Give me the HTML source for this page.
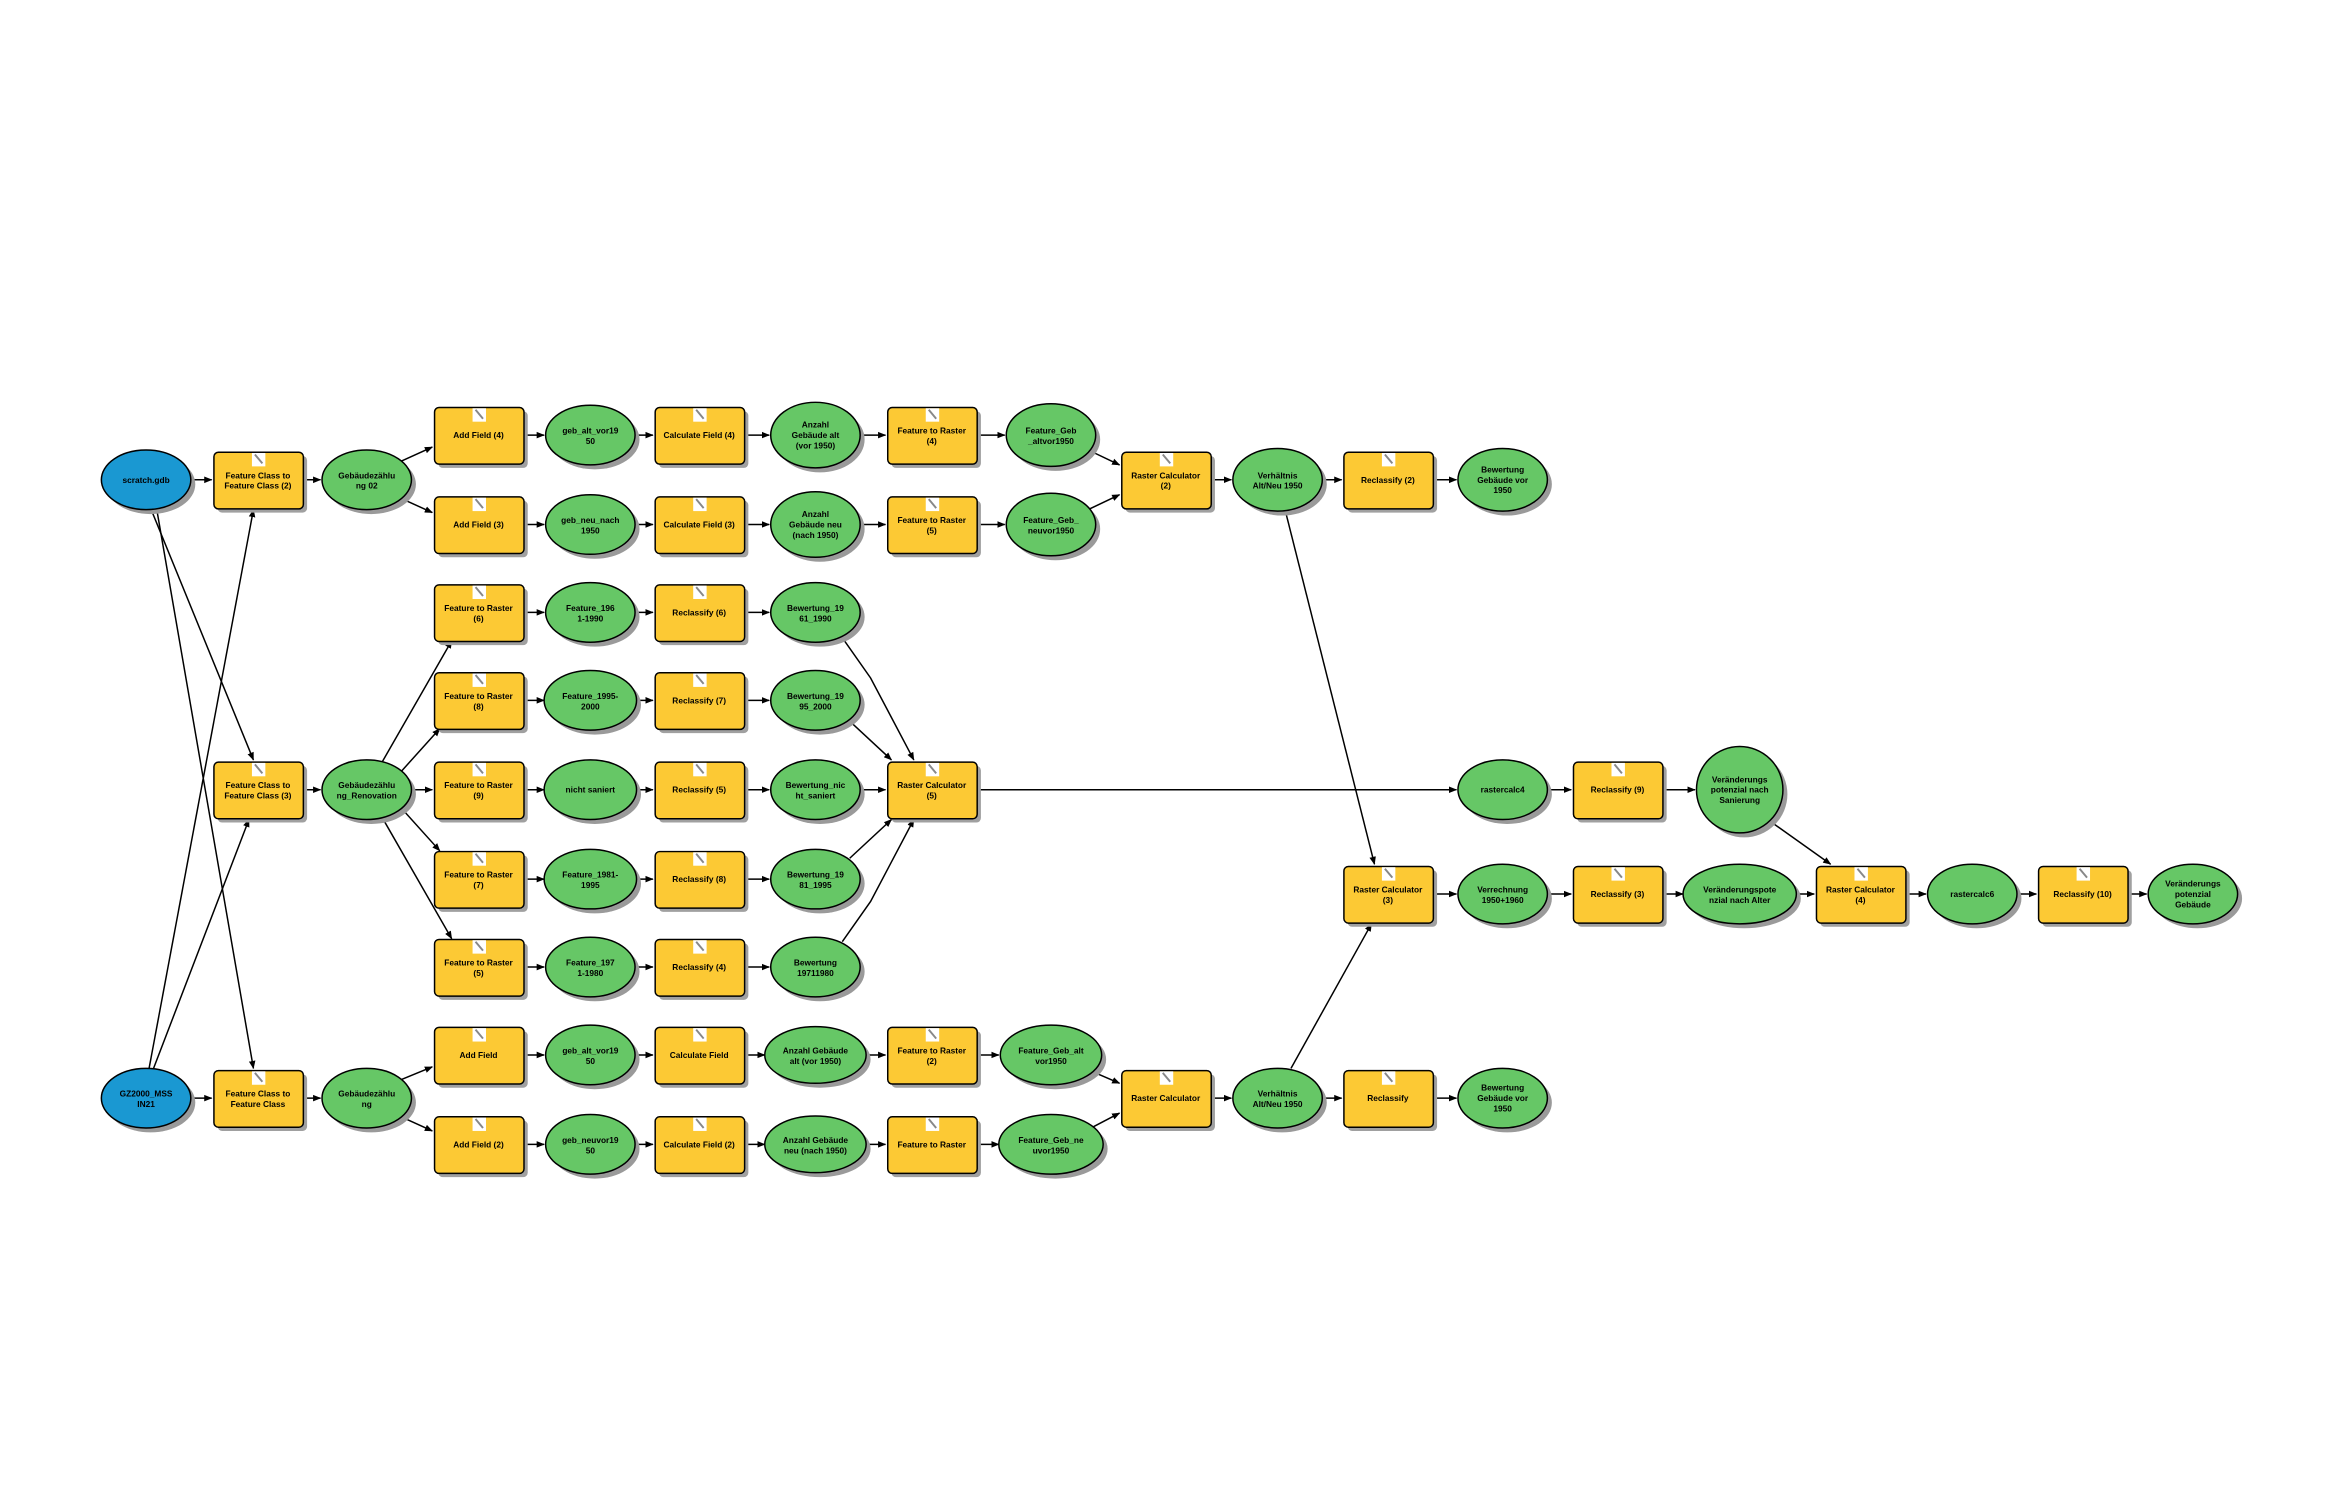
<!DOCTYPE html>
<html><head><meta charset="utf-8"><style>
html,body{margin:0;padding:0;background:#fff}
svg{display:block}
text{font-family:"Liberation Sans",sans-serif;font-weight:bold;font-size:5.6px;text-anchor:middle;fill:#000}
.l{stroke:#000;stroke-width:1;fill:none;marker-end:url(#a)}
.e{fill:#66c766;stroke:#000;stroke-width:1}
.b{fill:#1a98d2;stroke:#000;stroke-width:1}
.s{fill:#9a9a9a}
</style></head><body>
<svg width="2336" height="1496" viewBox="0 0 1567 1004" preserveAspectRatio="none" xmlns="http://www.w3.org/2000/svg">
<defs>
<marker id="a" markerWidth="6" markerHeight="6" refX="5" refY="3" orient="auto" markerUnits="userSpaceOnUse"><path d="M0,0.8 L5.5,3 L0,5.2 Z" fill="#000"/></marker>
<symbol id="bx" width="66" height="44" overflow="visible">
<rect x="3" y="3" width="60" height="38" rx="3" fill="#a0a0a0"/>
<rect x="0.5" y="0.5" width="60" height="38" rx="3" fill="#fcc934" stroke="#000" stroke-width="1"/>
<rect x="26" y="1" width="9" height="9" fill="#fff"/>
<path d="M28,2 L33,8" stroke="#888" stroke-width="1.3"/>
</symbol>
</defs>

<g>
<line class="l" x1="128" y1="322" x2="142" y2="322"/>
<line class="l" x1="203" y1="322" x2="215" y2="322"/>
<line class="l" x1="268" y1="310" x2="290" y2="300"/>
<line class="l" x1="268" y1="334" x2="290" y2="344"/>
<line class="l" x1="101" y1="341" x2="170" y2="510"/>
<line class="l" x1="105" y1="341" x2="170" y2="717"/>
<line class="l" x1="100" y1="717" x2="170" y2="342"/>
<line class="l" x1="103" y1="717" x2="167" y2="550"/>
<line class="l" x1="203" y1="530" x2="215" y2="530"/>
<line class="l" x1="128" y1="737" x2="142" y2="737"/>
<line class="l" x1="203" y1="737" x2="215" y2="737"/>
<line class="l" x1="268" y1="725" x2="290" y2="716"/>
<line class="l" x1="268" y1="749" x2="290" y2="759"/>
<g>
<line class="l" x1="351" y1="292" x2="365" y2="292"/><line class="l" x1="426" y1="292" x2="438" y2="292"/><line class="l" x1="499" y1="292" x2="516" y2="292"/><line class="l" x1="577" y1="292" x2="594" y2="292"/><line class="l" x1="655" y1="292" x2="674" y2="292"/>
<line class="l" x1="351" y1="352" x2="365" y2="352"/><line class="l" x1="426" y1="352" x2="438" y2="352"/><line class="l" x1="499" y1="352" x2="516" y2="352"/><line class="l" x1="577" y1="352" x2="594" y2="352"/><line class="l" x1="655" y1="352" x2="674" y2="352"/>
<line class="l" x1="730" y1="302" x2="751" y2="312"/><line class="l" x1="730" y1="342" x2="751" y2="332"/>
<line class="l" x1="812" y1="322" x2="826" y2="322"/><line class="l" x1="887" y1="322" x2="900" y2="322"/><line class="l" x1="961" y1="322" x2="977" y2="322"/>
</g>
<g>
<line class="l" x1="351" y1="708" x2="365" y2="708"/><line class="l" x1="426" y1="708" x2="438" y2="708"/><line class="l" x1="499" y1="708" x2="513" y2="708"/><line class="l" x1="581" y1="708" x2="594" y2="708"/><line class="l" x1="655" y1="708" x2="670" y2="708"/>
<line class="l" x1="351" y1="768" x2="365" y2="768"/><line class="l" x1="426" y1="768" x2="438" y2="768"/><line class="l" x1="499" y1="768" x2="513" y2="768"/><line class="l" x1="581" y1="768" x2="594" y2="768"/><line class="l" x1="655" y1="768" x2="670" y2="768"/>
<line class="l" x1="730" y1="718" x2="751" y2="727"/><line class="l" x1="730" y1="758" x2="751" y2="747"/>
<line class="l" x1="812" y1="737" x2="826" y2="737"/><line class="l" x1="887" y1="737" x2="900" y2="737"/><line class="l" x1="961" y1="737" x2="977" y2="737"/>
</g>
<g>
<line class="l" x1="256" y1="512" x2="303" y2="430"/>
<line class="l" x1="268" y1="519" x2="295" y2="489"/>
<line class="l" x1="276" y1="530" x2="290" y2="530"/>
<line class="l" x1="268" y1="541" x2="295" y2="571"/>
<line class="l" x1="256" y1="548" x2="303" y2="630"/>
<line class="l" x1="351" y1="411" x2="365" y2="411"/><line class="l" x1="426" y1="411" x2="438" y2="411"/><line class="l" x1="499" y1="411" x2="516" y2="411"/>
<line class="l" x1="351" y1="470" x2="365" y2="470"/><line class="l" x1="426" y1="470" x2="438" y2="470"/><line class="l" x1="499" y1="470" x2="516" y2="470"/>
<line class="l" x1="351" y1="530" x2="365" y2="530"/><line class="l" x1="426" y1="530" x2="438" y2="530"/><line class="l" x1="499" y1="530" x2="516" y2="530"/>
<line class="l" x1="351" y1="590" x2="365" y2="590"/><line class="l" x1="426" y1="590" x2="438" y2="590"/><line class="l" x1="499" y1="590" x2="516" y2="590"/>
<line class="l" x1="351" y1="649" x2="365" y2="649"/><line class="l" x1="426" y1="649" x2="438" y2="649"/><line class="l" x1="499" y1="649" x2="516" y2="649"/>
<path class="l" d="M565,428 L584,455 L613,510"/>
<line class="l" x1="570" y1="484" x2="598" y2="510"/>
<line class="l" x1="577" y1="530" x2="594" y2="530"/>
<line class="l" x1="570" y1="576" x2="598" y2="550"/>
<path class="l" d="M565,632 L584,605 L613,550"/>
<line class="l" x1="655" y1="530" x2="977" y2="530"/>
<line class="l" x1="1038" y1="530" x2="1054" y2="530"/>
<line class="l" x1="1115" y1="530" x2="1137" y2="530"/>
<line class="l" x1="1190" y1="553" x2="1228" y2="580"/>
<line class="l" x1="862" y1="342" x2="922" y2="580"/>
<line class="l" x1="866" y1="717" x2="920" y2="620"/>
<line class="l" x1="961" y1="600" x2="977" y2="600"/>
<line class="l" x1="1038" y1="600" x2="1054" y2="600"/>
<line class="l" x1="1115" y1="600" x2="1129" y2="600"/>
<line class="l" x1="1205" y1="600" x2="1217" y2="600"/>
<line class="l" x1="1278" y1="600" x2="1292" y2="600"/>
<line class="l" x1="1353" y1="600" x2="1366" y2="600"/>
<line class="l" x1="1427" y1="600" x2="1440" y2="600"/>
</g>
</g>

<g>
<ellipse class="s" cx="101" cy="325" rx="30" ry="20"/><ellipse class="b" cx="98" cy="322" rx="30" ry="20"/>
<ellipse class="s" cx="101" cy="740" rx="30" ry="20"/><ellipse class="b" cx="98" cy="737" rx="30" ry="20"/>
<ellipse class="s" cx="249" cy="325" rx="30" ry="20"/><ellipse class="e" cx="246" cy="322" rx="30" ry="20"/>
<ellipse class="s" cx="249" cy="533" rx="30" ry="20"/><ellipse class="e" cx="246" cy="530" rx="30" ry="20"/>
<ellipse class="s" cx="249" cy="740" rx="30" ry="20"/><ellipse class="e" cx="246" cy="737" rx="30" ry="20"/>

<ellipse class="s" cx="399" cy="295" rx="30" ry="20"/><ellipse class="e" cx="396" cy="292" rx="30" ry="20"/>
<ellipse class="s" cx="399" cy="355" rx="30" ry="20"/><ellipse class="e" cx="396" cy="352" rx="30" ry="20"/>
<ellipse class="s" cx="550" cy="295" rx="30" ry="22"/><ellipse class="e" cx="547" cy="292" rx="30" ry="22"/>
<ellipse class="s" cx="550" cy="355" rx="30" ry="22"/><ellipse class="e" cx="547" cy="352" rx="30" ry="22"/>
<ellipse class="s" cx="708" cy="295" rx="30" ry="21"/><ellipse class="e" cx="705" cy="292" rx="30" ry="21"/>
<ellipse class="s" cx="708" cy="355" rx="30" ry="21"/><ellipse class="e" cx="705" cy="352" rx="30" ry="21"/>
<ellipse class="s" cx="860" cy="325" rx="30" ry="21"/><ellipse class="e" cx="857" cy="322" rx="30" ry="21"/>
<ellipse class="s" cx="1011" cy="325" rx="30" ry="21"/><ellipse class="e" cx="1008" cy="322" rx="30" ry="21"/>

<ellipse class="s" cx="399" cy="711" rx="30" ry="20"/><ellipse class="e" cx="396" cy="708" rx="30" ry="20"/>
<ellipse class="s" cx="399" cy="771" rx="30" ry="20"/><ellipse class="e" cx="396" cy="768" rx="30" ry="20"/>
<ellipse class="s" cx="550" cy="711" rx="34" ry="19"/><ellipse class="e" cx="547" cy="708" rx="34" ry="19"/>
<ellipse class="s" cx="550" cy="771" rx="34" ry="19"/><ellipse class="e" cx="547" cy="768" rx="34" ry="19"/>
<ellipse class="s" cx="708" cy="711" rx="34" ry="20"/><ellipse class="e" cx="705" cy="708" rx="34" ry="20"/>
<ellipse class="s" cx="708" cy="771" rx="35" ry="20"/><ellipse class="e" cx="705" cy="768" rx="35" ry="20"/>
<ellipse class="s" cx="860" cy="740" rx="30" ry="20"/><ellipse class="e" cx="857" cy="737" rx="30" ry="20"/>
<ellipse class="s" cx="1011" cy="740" rx="30" ry="20"/><ellipse class="e" cx="1008" cy="737" rx="30" ry="20"/>

<ellipse class="s" cx="399" cy="414" rx="30" ry="20"/><ellipse class="e" cx="396" cy="411" rx="30" ry="20"/>
<ellipse class="s" cx="399" cy="473" rx="31" ry="20"/><ellipse class="e" cx="396" cy="470" rx="31" ry="20"/>
<ellipse class="s" cx="399" cy="533" rx="31" ry="20"/><ellipse class="e" cx="396" cy="530" rx="31" ry="20"/>
<ellipse class="s" cx="399" cy="593" rx="31" ry="20"/><ellipse class="e" cx="396" cy="590" rx="31" ry="20"/>
<ellipse class="s" cx="399" cy="652" rx="30" ry="20"/><ellipse class="e" cx="396" cy="649" rx="30" ry="20"/>
<ellipse class="s" cx="550" cy="414" rx="30" ry="20"/><ellipse class="e" cx="547" cy="411" rx="30" ry="20"/>
<ellipse class="s" cx="550" cy="473" rx="30" ry="20"/><ellipse class="e" cx="547" cy="470" rx="30" ry="20"/>
<ellipse class="s" cx="550" cy="533" rx="30" ry="20"/><ellipse class="e" cx="547" cy="530" rx="30" ry="20"/>
<ellipse class="s" cx="550" cy="593" rx="30" ry="20"/><ellipse class="e" cx="547" cy="590" rx="30" ry="20"/>
<ellipse class="s" cx="550" cy="652" rx="30" ry="20"/><ellipse class="e" cx="547" cy="649" rx="30" ry="20"/>

<ellipse class="s" cx="1011" cy="533" rx="30" ry="20"/><ellipse class="e" cx="1008" cy="530" rx="30" ry="20"/>
<ellipse class="s" cx="1170" cy="533" rx="29" ry="29"/><ellipse class="e" cx="1167" cy="530" rx="29" ry="29"/>
<ellipse class="s" cx="1011" cy="603" rx="30" ry="20"/><ellipse class="e" cx="1008" cy="600" rx="30" ry="20"/>
<ellipse class="s" cx="1170" cy="603" rx="38" ry="20"/><ellipse class="e" cx="1167" cy="600" rx="38" ry="20"/>
<ellipse class="s" cx="1326" cy="603" rx="30" ry="20"/><ellipse class="e" cx="1323" cy="600" rx="30" ry="20"/>
<ellipse class="s" cx="1474" cy="603" rx="30" ry="20"/><ellipse class="e" cx="1471" cy="600" rx="30" ry="20"/>
</g>

<g>
<use href="#bx" x="143" y="303"/><use href="#bx" x="143" y="511"/><use href="#bx" x="143" y="718"/>
<use href="#bx" x="291" y="273"/><use href="#bx" x="439" y="273"/><use href="#bx" x="595" y="273"/>
<use href="#bx" x="291" y="333"/><use href="#bx" x="439" y="333"/><use href="#bx" x="595" y="333"/>
<use href="#bx" x="752" y="303"/><use href="#bx" x="901" y="303"/>
<use href="#bx" x="291" y="392"/><use href="#bx" x="439" y="392"/>
<use href="#bx" x="291" y="451"/><use href="#bx" x="439" y="451"/>
<use href="#bx" x="291" y="511"/><use href="#bx" x="439" y="511"/>
<use href="#bx" x="291" y="571"/><use href="#bx" x="439" y="571"/>
<use href="#bx" x="291" y="630"/><use href="#bx" x="439" y="630"/>
<use href="#bx" x="595" y="511"/>
<use href="#bx" x="1055" y="511"/>
<use href="#bx" x="901" y="581"/><use href="#bx" x="1055" y="581"/><use href="#bx" x="1218" y="581"/><use href="#bx" x="1367" y="581"/>
<use href="#bx" x="291" y="689"/><use href="#bx" x="439" y="689"/><use href="#bx" x="595" y="689"/>
<use href="#bx" x="291" y="749"/><use href="#bx" x="439" y="749"/><use href="#bx" x="595" y="749"/>
<use href="#bx" x="752" y="718"/><use href="#bx" x="901" y="718"/>
</g>

<g>
<text x="98" y="324">scratch.gdb</text>
<text x="98" y="736">GZ2000_MSS</text><text x="98" y="743">IN21</text>
<text x="173" y="321">Feature Class to</text><text x="173" y="328">Feature Class (2)</text>
<text x="173" y="529">Feature Class to</text><text x="173" y="536">Feature Class (3)</text>
<text x="173" y="736">Feature Class to</text><text x="173" y="743">Feature Class</text>
<text x="246" y="321">Gebäudezählu</text><text x="246" y="328">ng 02</text>
<text x="246" y="529">Gebäudezählu</text><text x="246" y="536">ng_Renovation</text>
<text x="246" y="736">Gebäudezählu</text><text x="246" y="743">ng</text>

<text x="321" y="294">Add Field (4)</text>
<text x="396" y="291">geb_alt_vor19</text><text x="396" y="298">50</text>
<text x="469" y="294">Calculate Field (4)</text>
<text x="547" y="287">Anzahl</text><text x="547" y="294">Gebäude alt</text><text x="547" y="301">(vor 1950)</text>
<text x="625" y="291">Feature to Raster</text><text x="625" y="298">(4)</text>
<text x="705" y="291">Feature_Geb</text><text x="705" y="298">_altvor1950</text>
<text x="321" y="354">Add Field (3)</text>
<text x="396" y="351">geb_neu_nach</text><text x="396" y="358">1950</text>
<text x="469" y="354">Calculate Field (3)</text>
<text x="547" y="347">Anzahl</text><text x="547" y="354">Gebäude neu</text><text x="547" y="361">(nach 1950)</text>
<text x="625" y="351">Feature to Raster</text><text x="625" y="358">(5)</text>
<text x="705" y="351">Feature_Geb_</text><text x="705" y="358">neuvor1950</text>
<text x="782" y="321">Raster Calculator</text><text x="782" y="328">(2)</text>
<text x="857" y="321">Verhältnis</text><text x="857" y="328">Alt/Neu 1950</text>
<text x="931" y="324">Reclassify (2)</text>
<text x="1008" y="317">Bewertung</text><text x="1008" y="324">Gebäude vor</text><text x="1008" y="331">1950</text>

<text x="321" y="410">Feature to Raster</text><text x="321" y="417">(6)</text>
<text x="396" y="410">Feature_196</text><text x="396" y="417">1-1990</text>
<text x="469" y="413">Reclassify (6)</text>
<text x="547" y="410">Bewertung_19</text><text x="547" y="417">61_1990</text>
<text x="321" y="469">Feature to Raster</text><text x="321" y="476">(8)</text>
<text x="396" y="469">Feature_1995-</text><text x="396" y="476">2000</text>
<text x="469" y="472">Reclassify (7)</text>
<text x="547" y="469">Bewertung_19</text><text x="547" y="476">95_2000</text>
<text x="321" y="529">Feature to Raster</text><text x="321" y="536">(9)</text>
<text x="396" y="532">nicht saniert</text>
<text x="469" y="532">Reclassify (5)</text>
<text x="547" y="529">Bewertung_nic</text><text x="547" y="536">ht_saniert</text>
<text x="321" y="589">Feature to Raster</text><text x="321" y="596">(7)</text>
<text x="396" y="589">Feature_1981-</text><text x="396" y="596">1995</text>
<text x="469" y="592">Reclassify (8)</text>
<text x="547" y="589">Bewertung_19</text><text x="547" y="596">81_1995</text>
<text x="321" y="648">Feature to Raster</text><text x="321" y="655">(5)</text>
<text x="396" y="648">Feature_197</text><text x="396" y="655">1-1980</text>
<text x="469" y="651">Reclassify (4)</text>
<text x="547" y="648">Bewertung</text><text x="547" y="655">19711980</text>
<text x="625" y="529">Raster Calculator</text><text x="625" y="536">(5)</text>

<text x="1008" y="532">rastercalc4</text>
<text x="1085" y="532">Reclassify (9)</text>
<text x="1167" y="525">Veränderungs</text><text x="1167" y="532">potenzial nach</text><text x="1167" y="539">Sanierung</text>
<text x="931" y="599">Raster Calculator</text><text x="931" y="606">(3)</text>
<text x="1008" y="599">Verrechnung</text><text x="1008" y="606">1950+1960</text>
<text x="1085" y="602">Reclassify (3)</text>
<text x="1167" y="599">Veränderungspote</text><text x="1167" y="606">nzial nach Alter</text>
<text x="1248" y="599">Raster Calculator</text><text x="1248" y="606">(4)</text>
<text x="1323" y="602">rastercalc6</text>
<text x="1397" y="602">Reclassify (10)</text>
<text x="1471" y="595">Veränderungs</text><text x="1471" y="602">potenzial</text><text x="1471" y="609">Gebäude</text>

<text x="321" y="710">Add Field</text>
<text x="396" y="707">geb_alt_vor19</text><text x="396" y="714">50</text>
<text x="469" y="710">Calculate Field</text>
<text x="547" y="707">Anzahl Gebäude</text><text x="547" y="714">alt (vor 1950)</text>
<text x="625" y="707">Feature to Raster</text><text x="625" y="714">(2)</text>
<text x="705" y="707">Feature_Geb_alt</text><text x="705" y="714">vor1950</text>
<text x="321" y="770">Add Field (2)</text>
<text x="396" y="767">geb_neuvor19</text><text x="396" y="774">50</text>
<text x="469" y="770">Calculate Field (2)</text>
<text x="547" y="767">Anzahl Gebäude</text><text x="547" y="774">neu (nach 1950)</text>
<text x="625" y="770">Feature to Raster</text>
<text x="705" y="767">Feature_Geb_ne</text><text x="705" y="774">uvor1950</text>
<text x="782" y="739">Raster Calculator</text>
<text x="857" y="736">Verhältnis</text><text x="857" y="743">Alt/Neu 1950</text>
<text x="931" y="739">Reclassify</text>
<text x="1008" y="732">Bewertung</text><text x="1008" y="739">Gebäude vor</text><text x="1008" y="746">1950</text>
</g>
</svg>
</body></html>
